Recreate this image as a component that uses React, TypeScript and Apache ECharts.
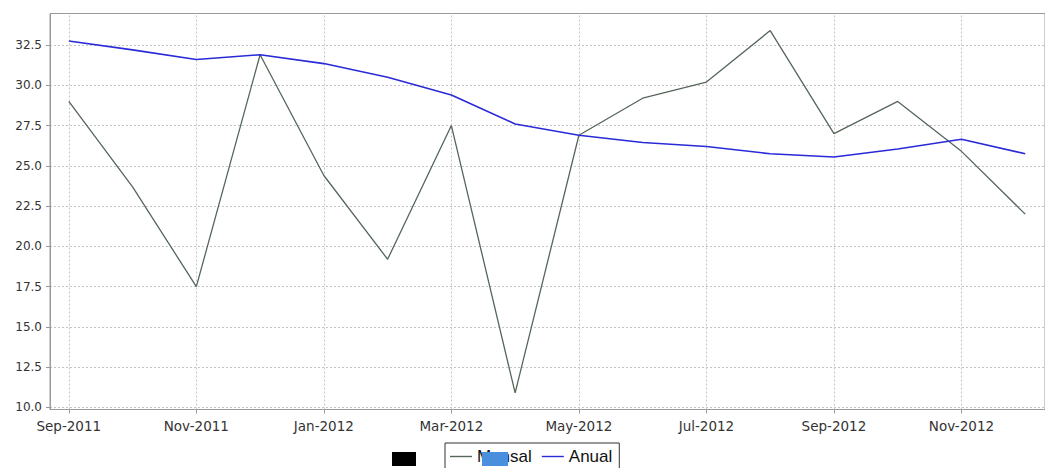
import React, { useEffect, useRef } from "react";
import * as echarts from "echarts";

const months = [
  "Sep-2011", "Oct-2011", "Nov-2011", "Dec-2011", "Jan-2012", "Feb-2012",
  "Mar-2012", "Apr-2012", "May-2012", "Jun-2012", "Jul-2012", "Aug-2012",
  "Sep-2012", "Oct-2012", "Nov-2012", "Dec-2012",
];
const mensal = [29.0, 23.7, 17.5, 31.9, 24.4, 19.2, 27.5, 10.9, 26.9, 29.2, 30.2, 33.4, 27.0, 29.0, 25.9, 22.0];
const anual = [32.75, 32.2, 31.6, 31.9, 31.35, 30.5, 29.4, 27.6, 26.9, 26.45, 26.2, 25.75, 25.55, 26.05, 26.65, 25.75];
const xTickIdx = [0, 2, 4, 6, 8, 10, 12, 14];
const yTicks = [10, 12.5, 15, 17.5, 20, 22.5, 25, 27.5, 30, 32.5];
const seriesNames = ["Mensal", "Anual"];

export default function App() {
  const ref = useRef<HTMLDivElement>(null);
  useEffect(() => {
    if (!ref.current) return;
    const chart = echarts.init(ref.current, undefined, { renderer: "svg" });
    const dashed = { color: "#c4c4c4", type: [2, 2] as any, width: 1 };
    const lineIcon = "path://M0,0H22V1.4H0Z";
    chart.setOption({
      animation: false,
      backgroundColor: "#ffffff",
      grid: {
        left: 50, top: 13.5, width: 1005, height: 396,
        show: true, borderColor: "#9a9a9a", borderWidth: 1, backgroundColor: "#ffffff",
      },
      xAxis: {
        type: "value",
        min: -0.295,
        max: 15.31,
        axisLine: { show: true, onZero: false, lineStyle: { color: "#9a9a9a" } },
        axisTick: { show: true, length: 4, customValues: xTickIdx, lineStyle: { color: "#9a9a9a" } },
        axisLabel: {
          customValues: xTickIdx,
          formatter: (v: number) => months[Math.round(v)] ?? "",
          fontFamily: "DejaVu Sans", fontSize: 13.5, color: "#333", margin: 9,
        },
        splitLine: { show: false },
      },
      yAxis: {
        type: "value",
        min: 9.87,
        max: 34.46,
        axisLine: { show: true, onZero: false, lineStyle: { color: "#9a9a9a" } },
        axisTick: { show: true, length: 4, customValues: yTicks, lineStyle: { color: "#9a9a9a" } },
        axisLabel: {
          customValues: yTicks,
          formatter: (v: number) => v.toFixed(1),
          fontFamily: "DejaVu Sans", fontSize: 12, color: "#333", margin: 8,
        },
        splitLine: { show: true, lineStyle: dashed },
      },
      legend: {
        left: 445, top: 443,
        data: seriesNames.map((n) => ({ name: n, icon: lineIcon })),
        borderColor: "#333", borderWidth: 1,
        padding: [5, 7, 5, 5],
        itemGap: 10, itemWidth: 22, itemHeight: 14,
        textStyle: { fontFamily: "Liberation Sans", fontSize: 17, color: "#111" },
      },
      series: [
        {
          name: seriesNames[0], type: "line", symbol: "none",
          data: mensal.map((v, i) => [i, v]),
          lineStyle: { color: "#55665a", width: 1.3 }, itemStyle: { color: "#55665a" },
          markLine: {
            silent: true, symbol: "none", z: 1,
            label: { show: false },
            lineStyle: dashed,
            data: xTickIdx.map((x) => ({ xAxis: x })),
          },
        },
        {
          name: seriesNames[1], type: "line", symbol: "none",
          data: anual.map((v, i) => [i, v]),
          lineStyle: { color: "#2a2ad8", width: 1.6 }, itemStyle: { color: "#2a2ad8" },
        },
      ],
      graphic: [
        { type: "rect", left: 392, top: 452, shape: { width: 24, height: 14 }, style: { fill: "#000" }, z: 100 },
        { type: "rect", left: 482, top: 452, shape: { width: 26, height: 14 }, style: { fill: "#4a8ede" }, z: 100 },
      ],
    });
    return () => chart.dispose();
  }, []);
  return (
    <div
      ref={ref}
      style={{ position: "absolute", left: 0, top: 0, width: 1045, height: 468 }}
    />
  );
}
